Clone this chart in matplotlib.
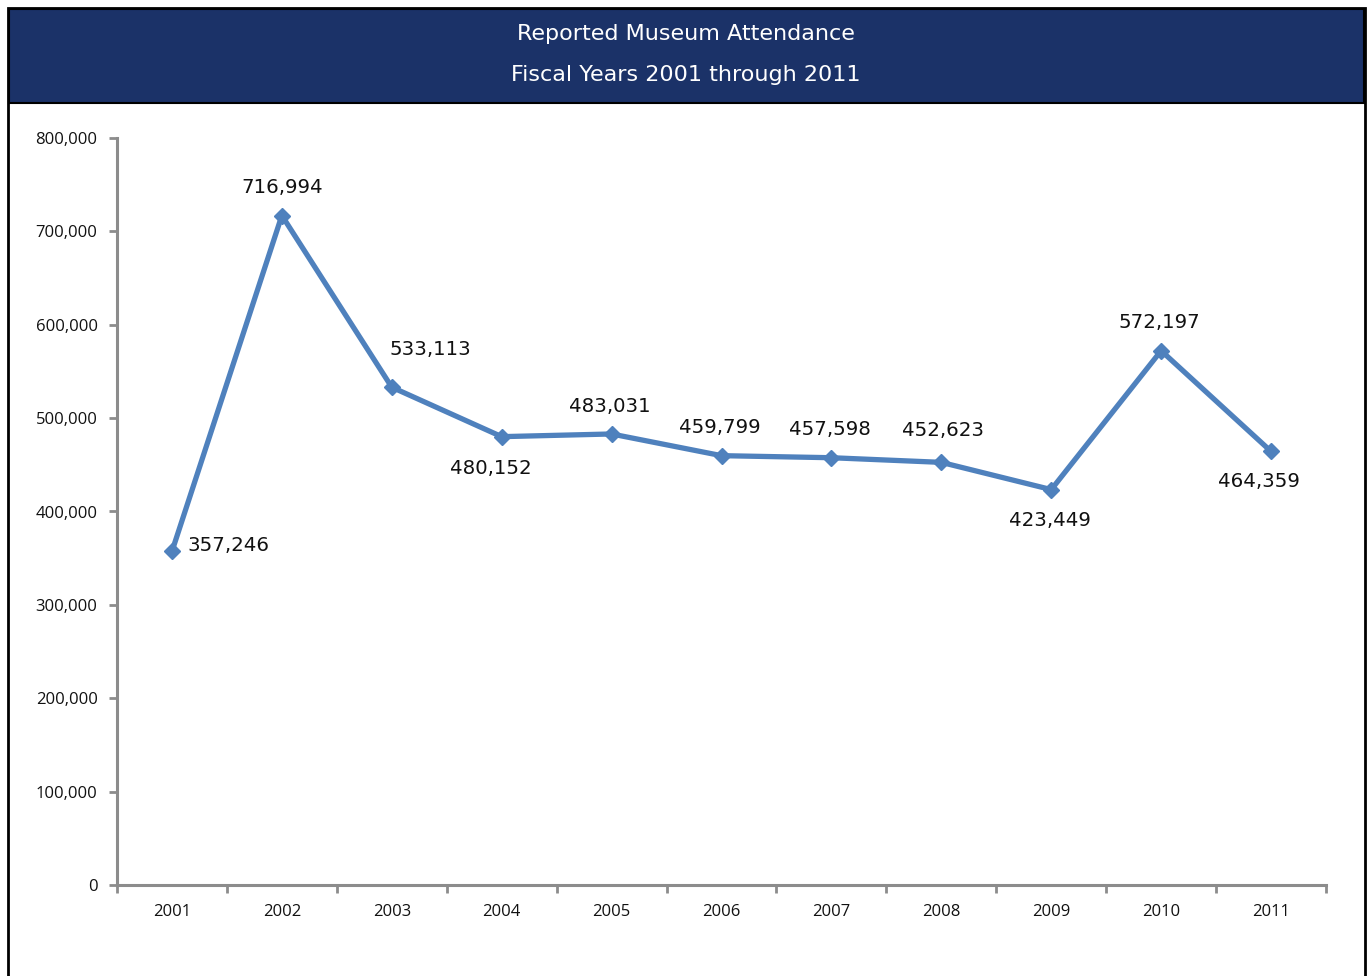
import matplotlib.pyplot as plt
from matplotlib.patches import Rectangle
from matplotlib.ticker import FuncFormatter

years = ['2001', '2002', '2003', '2004', '2005', '2006',
         '2007', '2008', '2009', '2010', '2011']
attendance = [357246, 716994, 533113, 480152, 483031, 459799,
              457598, 452623, 423449, 572197, 464359]
# label offsets in points (dx, dy); first label is left aligned
label_offsets = [(11, 4), (0, 20), (28, 27), (-8, -23), (-1, 20), (-1, 20),
                 (-1, 20), (1, 23), (-1, -22), (-1, 20), (-9, -22)]

W, H = 1369, 976
fig = plt.figure(figsize=(W / 100, H / 100), dpi=100)


def fx(px):
    return px / W


def fy(py):
    return 1 - py / H


# outer frame and header band
fig.patches.append(Rectangle((fx(8), fy(976 + 5)), fx(1357), (976 - 8 + 5) / H,
                             transform=fig.transFigure, fill=False,
                             edgecolor='black', linewidth=2, zorder=0))
fig.patches.append(Rectangle((fx(9), fy(103)), fx(1355), 94 / H,
                             transform=fig.transFigure, facecolor='#1B3268',
                             edgecolor='black', linewidth=1.5, zorder=0))
fig.text(fx(686), fy(34), 'Reported Museum Attendance', color='white',
         fontsize=16, ha='center', va='center', family='DejaVu Sans')
fig.text(fx(686), fy(75), 'Fiscal Years 2001 through 2011', color='white',
         fontsize=16, ha='center', va='center', family='DejaVu Sans')

ax = fig.add_axes([fx(117), fy(885), fx(1326 - 117), (885 - 138) / H])
x = list(range(len(years)))
ax.plot(x, attendance, color='#4F81BD', linewidth=3.8, marker='D',
        markersize=8, zorder=3)

for i, (xi, val, (dx, dy)) in enumerate(zip(x, attendance, label_offsets)):
    ax.annotate(f'{val:,}', (xi, val), xytext=(dx, dy),
                textcoords='offset points', ha='left' if i == 0 else 'center',
                va='center', fontsize=14.2, color='#111111',
                family='DejaVu Sans')

ax.set_xlim(-0.5, len(years) - 0.5)
ax.set_ylim(0, 800000)
ax.set_yticks(range(0, 800001, 100000))
ax.yaxis.set_major_formatter(FuncFormatter(lambda v, p: f'{int(v):,}'))
ax.set_xticks([i - 0.5 for i in range(len(years) + 1)])
ax.set_xticklabels([])
ax.set_xticks(x, minor=True)
ax.set_xticklabels(years, minor=True)

spine_c = '#8C8C8C'
for s in ['top', 'right']:
    ax.spines[s].set_visible(False)
for s in ['left', 'bottom']:
    ax.spines[s].set_color(spine_c)
    ax.spines[s].set_linewidth(2.2)
ax.tick_params(axis='both', which='major', color=spine_c, width=2,
               length=6, direction='out')
ax.tick_params(axis='x', which='minor', length=0, pad=14)
ax.tick_params(axis='y', pad=8)
for lab in ax.get_yticklabels() + ax.get_xticklabels(minor=True):
    lab.set_fontfamily('Open Sans')
    lab.set_fontsize(12)
    lab.set_color('#111111')

fig.savefig('out.png', dpi=100)
